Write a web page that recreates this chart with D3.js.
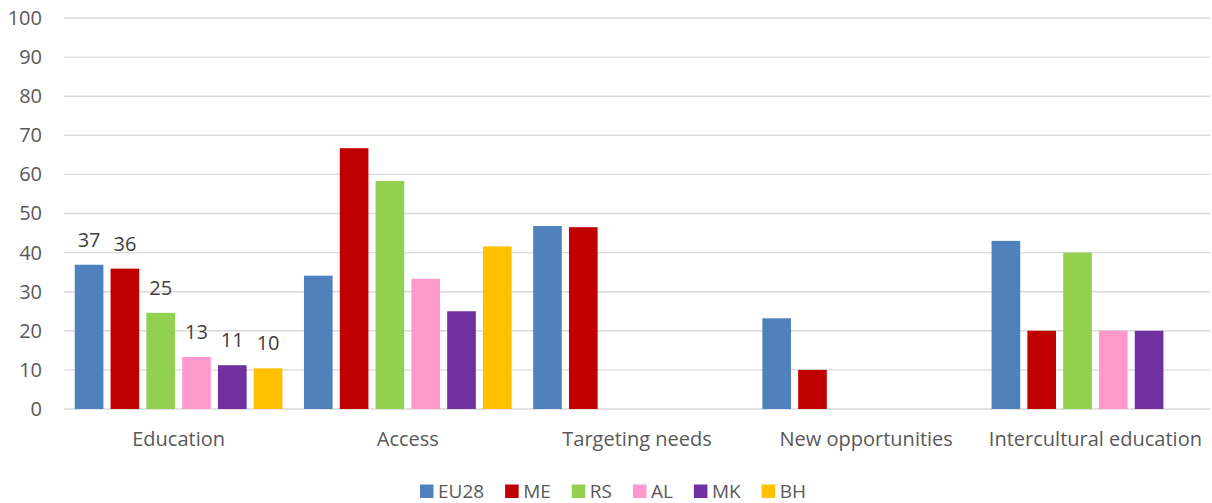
<!DOCTYPE html>
<html>
<head>
<meta charset="utf-8">
<script src="https://cdn.jsdelivr.net/npm/d3@7"></script>
<style>
  html, body { margin: 0; padding: 0; background: #fff; }
  svg { display: block; font-family: "Open Sans", "Noto Sans", sans-serif; }
</style>
</head>
<body>
<svg id="chart" width="1212" height="503"></svg>
<script>
const categories = ["Education", "Access", "Targeting needs", "New opportunities", "Intercultural education"];
const seriesNames = ["EU28", "ME", "RS", "AL", "MK", "BH"];
const seriesColors = ["#4f81bd", "#c00000", "#92d050", "#ff99cc", "#7030a0", "#ffc000"];
// values per series, in category order (null = no bar)
const EU28 = [36.9, 34.1, 46.8, 23.2, 43.0];
const ME   = [35.9, 66.7, 46.5, 10.0, 20.0];
const RS   = [24.6, 58.3, null, null, 40.0];
const AL   = [13.3, 33.3, null, null, 20.0];
const MK   = [11.2, 25.0, null, null, 20.0];
const BH   = [10.4, 41.6, null, null, null];
const seriesValues = [EU28, ME, RS, AL, MK, BH];
const yTicks = [0, 10, 20, 30, 40, 50, 60, 70, 80, 90, 100];
const labelledCategory = "Education";

const FONT = "'Open Sans', 'Noto Sans', sans-serif";
const svg = d3.select("#chart");
const mLeft = 64, mRight = 1210, mTop = 18, mBottom = 409;

const x0 = d3.scaleBand().domain(categories).range([mLeft, mRight]).padding(0);
const x1 = d3.scaleBand().domain(seriesNames).range([0, x0.bandwidth()])
  .paddingInner(0.2).paddingOuter(0.301);
const y = d3.scaleLinear().domain([0, 100]).range([mBottom, mTop]);
const color = d3.scaleOrdinal().domain(seriesNames).range(seriesColors);

// gridlines
svg.append("g").selectAll("line").data(yTicks).join("line")
  .attr("x1", mLeft).attr("x2", mRight)
  .attr("y1", d => y(d)).attr("y2", d => y(d))
  .attr("stroke", "#d9d9d9").attr("stroke-width", 1.4);

// y axis labels
const yAxis = d3.axisLeft(y).tickValues(yTicks).tickSize(0).tickPadding(0);
const gy = svg.append("g").attr("transform", `translate(42,0)`).call(yAxis);
gy.select(".domain").remove();
gy.selectAll("text").attr("font-size", 20).attr("fill", "#595959")
  .attr("font-family", FONT);

// bars
const rows = [];
seriesNames.forEach((s, si) => {
  categories.forEach((c, ci) => {
    const v = seriesValues[si][ci];
    if (v !== null && v !== undefined) rows.push({ s, c, v });
  });
});
svg.append("g").selectAll("rect").data(rows).join("rect")
  .attr("x", d => x0(d.c) + x1(d.s))
  .attr("y", d => y(d.v))
  .attr("width", x1.bandwidth())
  .attr("height", d => y(0) - y(d.v))
  .attr("fill", d => color(d.s));

// data labels (Education only)
svg.append("g").selectAll("text").data(rows.filter(d => d.c === labelledCategory)).join("text")
  .attr("x", d => x0(d.c) + x1(d.s) + x1.bandwidth() / 2)
  .attr("y", d => y(d.v) - 18)
  .attr("text-anchor", "middle")
  .attr("font-size", 20).attr("fill", "#404040")
  .text(d => d3.format(".0f")(d.v));

// x axis labels
const xAxis = d3.axisBottom(x0).tickSize(0).tickPadding(0);
const gx = svg.append("g").attr("transform", `translate(0,${mBottom + 23})`).call(xAxis);
gx.select(".domain").remove();
gx.selectAll("text").attr("font-size", 20).attr("fill", "#595959")
  .attr("font-family", FONT);

// legend (laid out by measured text widths)
const legend = svg.append("g");
let lx = 420;
seriesNames.forEach(s => {
  const g = legend.append("g").attr("transform", `translate(${lx},484.5)`);
  g.append("rect").attr("width", 13.5).attr("height", 13.5).attr("fill", color(s));
  const t = g.append("text").attr("x", 18).attr("y", 13.5)
    .attr("font-size", 19).attr("fill", "#595959").text(s);
  lx += 18 + t.node().getComputedTextLength() + 21;
});
</script>
</body>
</html>
